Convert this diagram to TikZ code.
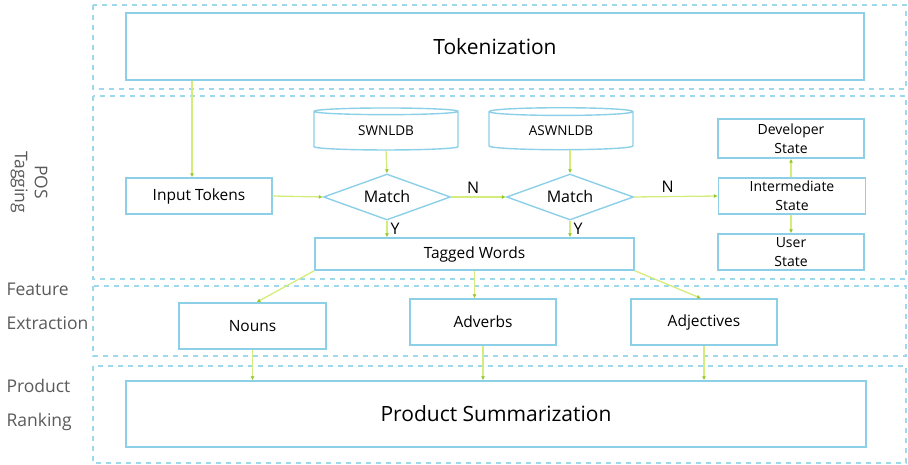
\documentclass[tikz,border=0pt]{standalone}
\usepackage{fontspec}
\setmainfont{Open Sans}
\usetikzlibrary{arrows.meta,shapes.geometric}

\definecolor{boxblue}{RGB}{140,208,232}
\definecolor{lanedash}{RGB}{158,216,236}
\definecolor{flowline}{RGB}{212,236,124}
\definecolor{flowtip}{RGB}{150,200,40}
\definecolor{lanetext}{RGB}{90,90,90}

\newcommand{\fs}[1]{\fontsize{#1}{19}\selectfont}

\tikzset{
  lane/.style={draw=lanedash, line width=1.2pt, dash pattern=on 5pt off 5pt},
  stagebox/.style={draw=boxblue, line width=1.4pt, fill=white, inner sep=0pt,
    minimum width=#1, align=center},
  dbase/.style={cylinder, shape border rotate=90, draw=boxblue, line width=1.4pt,
    aspect=0.12, inner sep=0pt, minimum width=144pt, minimum height=42pt},
  decide/.style={diamond, draw=boxblue, line width=1.4pt, inner sep=0pt,
    aspect=2.7, minimum width=127pt, minimum height=46pt},
  flow/.style={draw=flowline, line width=1.3pt,
    -{Latex[length=4pt,width=4pt,color=flowtip]}},
  lanelabel/.style={text=lanetext, align=left, anchor=west}
}

\begin{document}
\begin{tikzpicture}[x=1pt, y=-1pt, >=Latex]

% Canvas
\useasboundingbox (0,0) rectangle (908,465);

% Swim lanes
\draw[lane] (93,5) rectangle (906,89);
\draw[lane] (93,96) rectangle (906,279);
\draw[lane] (93,286) rectangle (906,356);
\draw[lane] (93,366) rectangle (906,463);

% Lane titles
\node[text=lanetext, rotate=-90, align=center, font=\fontsize{17.5}{20}\selectfont]
    (posTitle) at (29,182) {POS\\Tagging};
\node[lanelabel, font=\fontsize{17.5}{34}\selectfont]
    (featTitle) at (3,306) {Feature\\Extraction};
\node[lanelabel, font=\fontsize{17.5}{34}\selectfont]
    (rankTitle) at (3,405) {Product\\Ranking};

% Tokenization
\node[stagebox=738pt, minimum height=67pt, font=\fs{21}]
    (tok) at (495,46.5) {Tokenization};

% POS tagging stage
\node[stagebox=146pt, minimum height=36pt, font=\fs{15.5}]
    (input) at (199,196) {Input Tokens};

\node[dbase, font=\fs{13.5}] (swnl) at (386,131) {SWNLDB};
\node[dbase, font=\fs{13.5}] (aswnl) at (561,131) {ASWNLDB};

\node[decide, font=\fs{16}] (match1) at (387,197) {Match};
\node[decide, font=\fs{16}] (match2) at (570,197) {Match};

\node[stagebox=319pt, minimum height=32pt, font=\fs{15.5}]
    (tagged) at (474.5,254) {Tagged Words};

% States
\node[stagebox=146pt, minimum height=39pt, font=\fs{14}]
    (dev) at (791,138.5) {Developer\\State};
\node[stagebox=147pt, minimum height=36pt, font=\fs{14}]
    (inter) at (792,196) {Intermediate\\State};
\node[stagebox=146pt, minimum height=36pt, font=\fs{14}]
    (user) at (791,252) {User\\State};

% Feature extraction stage
\node[stagebox=147pt, minimum height=46pt, font=\fs{15.5}]
    (nouns) at (252.5,326) {Nouns};
\node[stagebox=146pt, minimum height=46pt, font=\fs{15.5}]
    (adverbs) at (483,322) {Adverbs};
\node[stagebox=146pt, minimum height=46pt, font=\fs{15.5}]
    (adject) at (704,322) {Adjectives};

% Product ranking
\node[stagebox=740pt, minimum height=66pt, font=\fs{21}]
    (summ) at (496,414) {Product Summarization};

% Connectors
\draw[flow] ([xshift=-7pt]input.north |- tok.south) -- ([xshift=-7pt]input.north);
\draw[flow] (input.east) -- (match1.west);
\draw[flow] (swnl.south) -- (match1.north);
\draw[flow] (aswnl.south -| match2.north) -- (match2.north);
\draw[flow] (match1.east)
    -- node[above, pos=0.4, inner sep=3pt, font=\fs{16}] {N}
    (match2.west);
\draw[flow] (match2.east)
    -- node[above, pos=0.4, inner sep=3pt, font=\fs{16}] {N}
    (inter.west);
\draw[flow] (match1.south)
    -- node[right, inner sep=3pt, font=\fs{16}] {Y}
    (match1.south |- tagged.north);
\draw[flow] (match2.south)
    -- node[right, inner sep=3pt, font=\fs{16}] {Y}
    (match2.south |- tagged.north);
\draw[flow] (inter.north -| dev.south) -- (dev.south);
\draw[flow] (inter.south -| user.north) -- (user.north);

\draw[flow] (tagged.south west) -- ([xshift=4pt]nouns.north);
\draw[flow] (tagged.south) -- (tagged.south |- adverbs.north);
\draw[flow] (tagged.south east) -- ([xshift=-3pt]adject.north);

\draw[flow] (nouns.south) -- (nouns.south |- summ.north);
\draw[flow] (adverbs.south) -- (adverbs.south |- summ.north);
\draw[flow] (adject.south) -- (adject.south |- summ.north);

\end{tikzpicture}
\end{document}
